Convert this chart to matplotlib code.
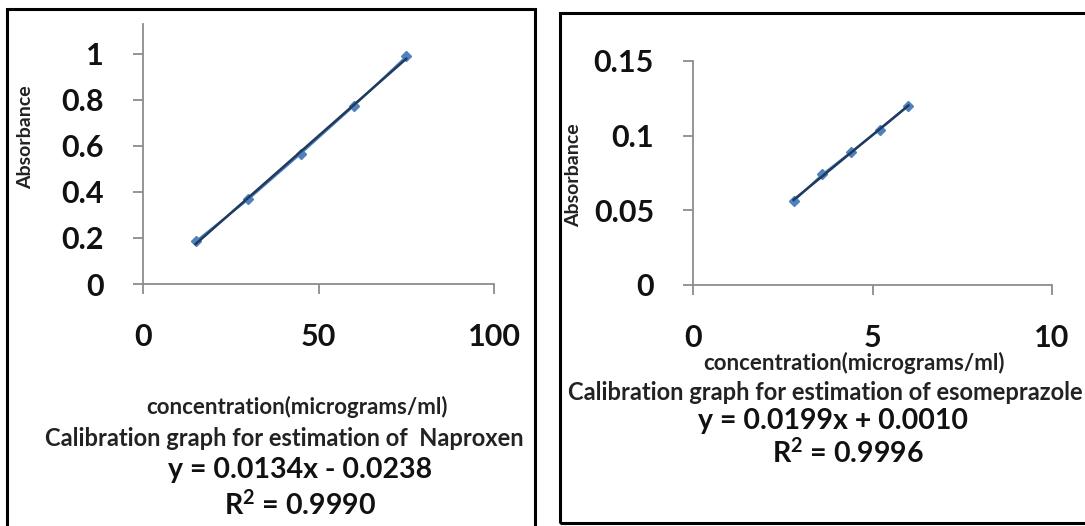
import numpy as np
import matplotlib
matplotlib.use("Agg")
import matplotlib.pyplot as plt
from matplotlib.patches import Rectangle

plt.rcParams['font.family'] = ['Lato', 'DejaVu Sans']
plt.rcParams['mathtext.fontset'] = 'custom'
plt.rcParams['mathtext.rm'] = 'Lato:bold'
plt.rcParams['mathtext.it'] = 'Lato:bold'
plt.rcParams['mathtext.bf'] = 'Lato:bold'

# Naproxen calibration data
nap_conc = [15, 30, 45, 60, 75]
nap_abs = [0.185, 0.368, 0.567, 0.773, 0.989]
nap_yticks = [0, 0.2, 0.4, 0.6, 0.8, 1]
nap_xticks = [0, 50, 100]

# Esomeprazole calibration data
eso_conc = [2.8, 3.6, 4.4, 5.2, 6.0]
eso_abs = [0.056, 0.074, 0.089, 0.104, 0.120]
eso_yticks = [0, 0.05, 0.1, 0.15]
eso_xticks = [0, 5, 10]

W, H = 1085, 526
fig = plt.figure(figsize=(W / 100, H / 100), dpi=100)
fig.patch.set_facecolor("white")


def px_axes(x0, y_top, x1, y_bot):
    return fig.add_axes([x0 / W, 1 - y_bot / H, (x1 - x0) / W, (y_bot - y_top) / H])


def fx(x):
    return x / W


def fy(y):
    return 1 - y / H


def style(ax, xticks, yticks, xlim, ylim, ylabels):
    ax.set_xlim(*xlim)
    ax.set_ylim(*ylim)
    for s in ["top", "right"]:
        ax.spines[s].set_visible(False)
    for s in ["left", "bottom"]:
        ax.spines[s].set_color("#8c8c8c")
        ax.spines[s].set_linewidth(1.3)
    ax.set_xticks(xticks)
    ax.set_yticks(yticks)
    ax.set_yticklabels(ylabels)
    ax.tick_params(direction="out", length=7, width=1.3, color="#8c8c8c",
                   labelsize=22, labelcolor="#111111")
    ax.tick_params(axis="y", pad=21)
    ax.tick_params(axis="x", pad=21)
    for t in ax.get_xticklabels() + ax.get_yticklabels():
        t.set_fontweight("bold")
    ax.patch.set_alpha(0)


def draw_series(ax, x, y):
    ax.plot(x, y, color="#4f81bd", lw=1.5, marker="D", ms=5,
            mfc="#4f81bd", mec="#4f81bd", zorder=3)
    m, b = np.polyfit(x, y, 1)
    xs = np.array([min(x), max(x)])
    ax.plot(xs, m * xs + b, color="#1f3a5c", lw=1.8, zorder=4)


# left panel
ax1 = px_axes(143, 24, 494, 284)
draw_series(ax1, nap_conc, nap_abs)
style(ax1, nap_xticks, nap_yticks, (0, 100), (0, 1.13),
      ["0", "0.2", "0.4", "0.6", "0.8", "1"])

# right panel
ax2 = px_axes(693, 61, 1052, 285)
draw_series(ax2, eso_conc, eso_abs)
style(ax2, eso_xticks, eso_yticks, (0, 10), (0, 0.15),
      ["0", "0.05", "0.1", "0.15"])

# panel borders
fig.patches.append(Rectangle((fx(7), fy(540)), fx(535 - 7), fy(9) - fy(540),
                             transform=fig.transFigure, fill=False,
                             lw=2.2, ec="black"))
fig.patches.append(Rectangle((fx(560), fy(523)), fx(1100 - 560), fy(13) - fy(523),
                             transform=fig.transFigure, fill=False,
                             lw=2.2, ec="black"))

small = dict(ha="center", va="center", fontsize=16, fontweight="bold", color="#222222")
title = dict(ha="center", va="center", fontsize=17, fontweight="bold", color="#222222")
big = dict(ha="center", va="center", fontsize=20.5, fontweight="bold", color="#111111")

# texts - left
fig.text(fx(26), fy(137), "Absorbance", rotation=90, ha="center", va="center",
         fontsize=14, fontweight="bold", color="#222222")
fig.text(fx(297), fy(407), "concentration(micrograms/ml)", **small)
fig.text(fx(284), fy(439), "Calibration graph for estimation of  Naproxen", **title)
fig.text(fx(300), fy(470), "y = 0.0134x - 0.0238", **big)
fig.text(fx(300), fy(505), "R$^{2}$ = 0.9990", **big)

# texts - right
fig.text(fx(574), fy(175), "Absorbance", rotation=90, ha="center", va="center",
         fontsize=14, fontweight="bold", color="#222222")
fig.text(fx(854), fy(363), "concentration(micrograms/ml)", **small)
fig.text(fx(825), fy(392), "Calibration graph for estimation of esomeprazole", **title)
fig.text(fx(833), fy(421), "y = 0.0199x + 0.0010", **big)
fig.text(fx(848), fy(453), "R$^{2}$ = 0.9996", **big)

fig.savefig("out.png", dpi=100)
